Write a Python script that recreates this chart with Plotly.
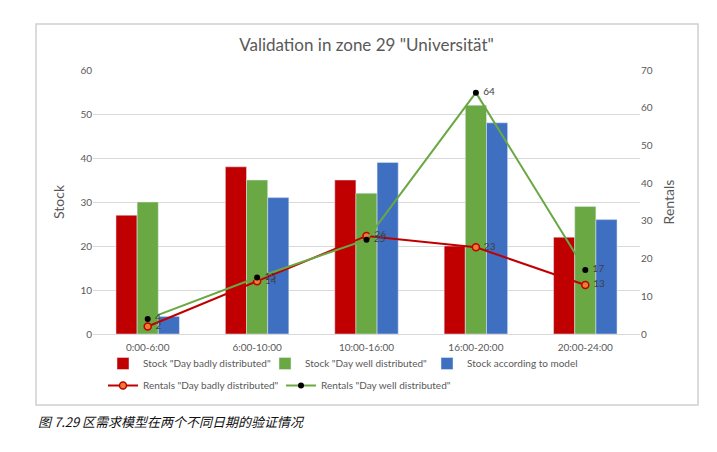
import plotly.graph_objects as go

periods = ["0:00-6:00", "6:00-10:00", "10:00-16:00", "16:00-20:00", "20:00-24:00"]
stock_bad = [27, 38, 35, 20, 22]
stock_well = [30, 35, 32, 52, 29]
stock_model = [4, 31, 39, 48, 26]
rentals_bad = [2, 14, 26, 23, 13]
rentals_well = [4, 15, 25, 64, 17]

FONT = "Lato, 'Open Sans', sans-serif"
GREY = "#595959"
RED = "#C00000"
GREEN = "#6AA843"
BLUE = "#3F6FC1"

# the page body adds an 8px offset; pixel targets below are screen positions
OFF = 8
W, H = 717, 452
L, T = 93 - OFF, 70 - OFF
R = W - (640 - OFF)
B = H - (334 - OFF)
pw, ph = W - L - R, H - T - B


def px_x(x):
    return (x - OFF - L) / pw


def px_y(y):
    return (H - B - (y - OFF)) / ph


def labels(values):
    # small gap between marker and its data label, like the source chart
    return ["\u00a0" + str(v) for v in values]


fig = go.Figure()

fig.add_trace(go.Bar(x=periods, y=stock_bad, name='Stock "Day badly distributed"',
                     marker_color=RED, legend="legend"))
fig.add_trace(go.Bar(x=periods, y=stock_well, name='Stock "Day well distributed"',
                     marker_color=GREEN, legend="legend"))
fig.add_trace(go.Bar(x=periods, y=stock_model, name="Stock according to model",
                     marker_color=BLUE, legend="legend"))

fig.add_trace(go.Scatter(
    x=periods, y=rentals_bad, yaxis="y2", name='Rentals "Day badly distributed"',
    mode="lines+markers+text", text=labels(rentals_bad),
    textposition="middle right", textfont=dict(size=10, color="#404040"),
    line=dict(color=RED, width=2),
    marker=dict(size=7, color="#ED7D31", line=dict(color=RED, width=1.5)),
    legend="legend2"))
fig.add_trace(go.Scatter(
    x=periods, y=rentals_well, yaxis="y2", name='Rentals "Day well distributed"',
    mode="lines+markers+text", text=labels(rentals_well),
    textposition="middle right", textfont=dict(size=10, color="#404040"),
    line=dict(color=GREEN, width=2),
    marker=dict(size=6, color="black"),
    legend="legend2"))

fig.update_layout(
    width=W, height=H,
    margin=dict(l=L, r=R, t=T, b=B),
    paper_bgcolor="white", plot_bgcolor="white",
    font=dict(family=FONT, size=10, color=GREY),
    barmode="group", bargap=0.42, bargroupgap=0,
    title=dict(text='Validation in zone 29 "Universität"', x=0.5, xanchor="center",
               y=1 - (45 - OFF) / H, yanchor="middle", font=dict(size=17, color=GREY)),
    xaxis=dict(showgrid=False, showline=True, linecolor="#D9D9D9", ticks="",
               ticklabelstandoff=4, tickfont=dict(size=10, color=GREY)),
    yaxis=dict(range=[0, 60], dtick=10, showgrid=True, gridcolor="#D9D9D9",
               zeroline=False, showline=False, ticks="",
               title=dict(text="Stock", font=dict(size=14, color=GREY), standoff=12)),
    yaxis2=dict(range=[0, 70], dtick=10, overlaying="y", side="right",
                showgrid=False, zeroline=False, showline=False, ticks="",
                title=dict(text="Rentals", font=dict(size=14, color=GREY), standoff=12)),
    legend=dict(orientation="h", x=px_x(103), xanchor="left", y=px_y(349), yanchor="top",
                font=dict(size=10, color=GREY), entrywidth=117, traceorder="normal",
                bgcolor="rgba(0,0,0,0)"),
    legend2=dict(orientation="h", x=px_x(103), xanchor="left", y=px_y(371), yanchor="top",
                 font=dict(size=10, color=GREY), entrywidth=133, traceorder="normal",
                 bgcolor="rgba(0,0,0,0)"),
    showlegend=True,
)

fig.add_shape(type="rect", xref="paper", yref="paper",
              x0=px_x(36), x1=px_x(698), y0=px_y(405), y1=px_y(24),
              line=dict(color="#D0D0D0", width=1.5), layer="below")

fig.add_annotation(text="图 7.29 区需求模型在两个不同日期的验证情况", xref="paper", yref="paper",
                   x=px_x(36), y=px_y(421), xanchor="left", yanchor="middle",
                   showarrow=False,
                   font=dict(family="'Noto Sans CJK SC'", size=13, color="#111111",
                             style="italic"))

fig.write_html("out.html")
